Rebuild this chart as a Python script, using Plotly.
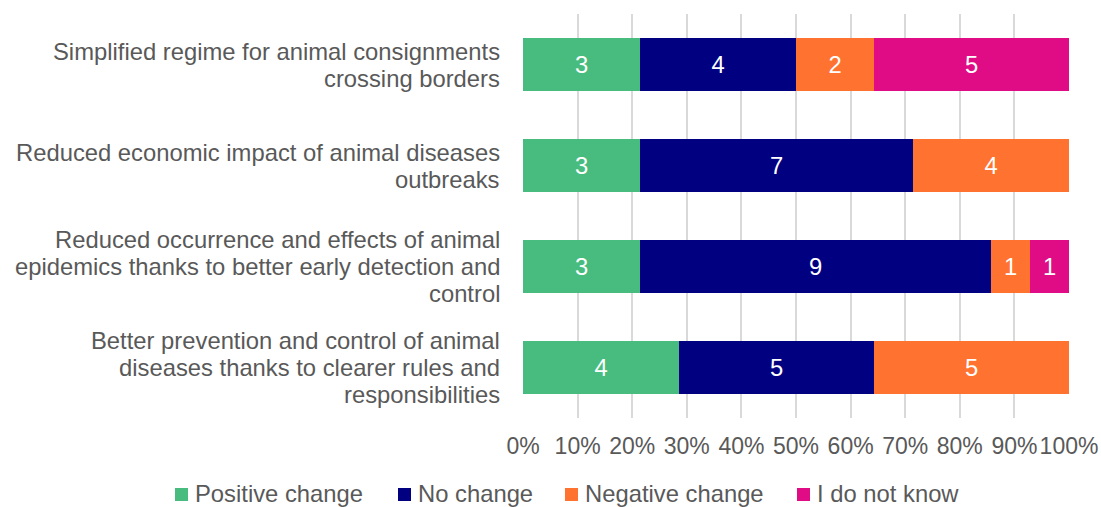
import plotly.graph_objects as go

categories = [
    "Better prevention and control of animal<br>diseases thanks to clearer rules and<br>responsibilities",
    "Reduced occurrence and effects of animal<br>epidemics thanks to better early detection and<br>control",
    "Reduced economic impact of animal diseases<br>outbreaks",
    "Simplified regime for animal consignments<br>crossing borders",
]
positive = [4, 3, 3, 3]
no_change = [5, 9, 7, 4]
negative = [5, 1, 4, 2]
dont_know = [0, 1, 0, 5]

series = [
    ("Positive change", positive, "#47BC7E"),
    ("No change", no_change, "#000080"),
    ("Negative change", negative, "#FF7230"),
    ("I do not know", dont_know, "#DF0C85"),
]

FONT = "Liberation Sans, Arial, sans-serif"
GREY = "#595959"
SIZE = 23.8
LINE_H = 27

W, H = 1101, 507
M_L, M_R, M_T, M_B = 523, 32, 14, 89
PW, PH = W - M_L - M_R, H - M_T - M_B


def px_x(px):
    return (px - M_L) / PW


def px_y(py):
    return (H - M_B - py) / PH


fig = go.Figure()
for name, vals, color in series:
    fig.add_trace(go.Bar(
        y=categories, x=vals, name=name, orientation="h",
        marker=dict(color=color, line=dict(width=0)),
        text=[str(v) if v else "" for v in vals],
        texttemplate="%{text}",
        textposition="inside", insidetextanchor="middle",
        textfont=dict(color="white", size=SIZE, family=FONT),
        hoverinfo="skip", showlegend=False,
    ))

# Category labels: right-aligned, tightly spaced lines beside each bar
for cat in categories:
    lines = cat.split("<br>")
    n = len(lines)
    for i, line in enumerate(lines):
        fig.add_annotation(
            x=0, xref="paper", y=cat, yref="y",
            xanchor="right", yanchor="middle", xshift=-21,
            yshift=((n - 1) / 2 - i) * LINE_H,
            text=line, showarrow=False,
            font=dict(size=SIZE, color=GREY, family=FONT),
        )

# Legend row along the bottom edge: small square swatch + label
legend_left = [175, 398, 565, 797]
SW = 13
ROW_Y = 493
for (name, _, color), left in zip(series, legend_left):
    fig.add_shape(type="rect", xref="paper", yref="paper",
                  x0=px_x(left), x1=px_x(left + SW),
                  y0=px_y(ROW_Y - 5), y1=px_y(ROW_Y - 5 + SW),
                  fillcolor=color, line=dict(width=0), layer="above")
    fig.add_annotation(x=px_x(left + 18), y=px_y(ROW_Y), xref="paper", yref="paper",
                       xanchor="left", yanchor="middle", text=name,
                       showarrow=False,
                       font=dict(size=SIZE, color=GREY, family=FONT))

fig.update_layout(
    barmode="stack", barnorm="percent", bargap=0.485,
    width=W, height=H,
    margin=dict(l=M_L, r=M_R, t=M_T, b=M_B, autoexpand=False),
    plot_bgcolor="white", paper_bgcolor="white",
    font=dict(family=FONT, size=SIZE, color=GREY),
    uniformtext=dict(mode="show", minsize=SIZE),
    showlegend=False,
)
fig.update_xaxes(range=[0, 100], dtick=10, ticksuffix="%", tickangle=0,
                 showgrid=True, gridcolor="#D9D9D9", gridwidth=2,
                 ticks="outside", ticklen=7, tickcolor="rgba(0,0,0,0)",
                 zeroline=False, tickfont=dict(size=23, color=GREY),
                 fixedrange=True)
fig.update_yaxes(showgrid=False, showticklabels=False,
                 ticks="", fixedrange=True)

fig.write_html("out.html")
